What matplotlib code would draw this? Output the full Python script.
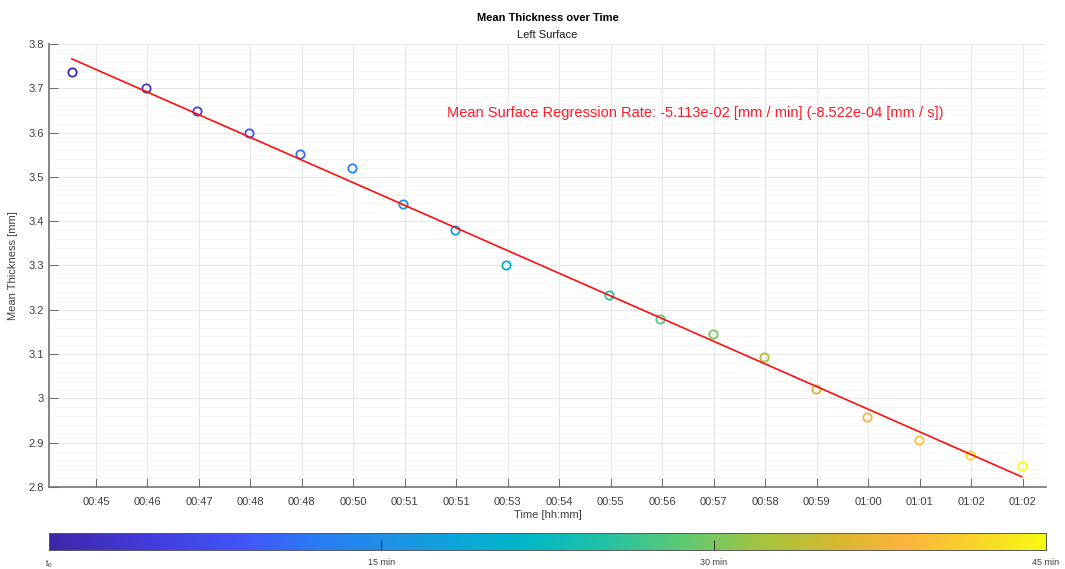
import numpy as np
import matplotlib
matplotlib.use("Agg")
import matplotlib.pyplot as plt
from matplotlib.colors import LinearSegmentedColormap
from matplotlib.ticker import FuncFormatter, MultipleLocator

plt.rcParams['font.family'] = ['Liberation Sans', 'DejaVu Sans']

# Measurement times [min] and mean thickness [mm]
sample_minutes = [44.53, 45.97, 46.96, 47.97, 48.96, 49.97, 50.96, 51.97, 52.97,
                  54.97, 55.96, 56.98, 57.97, 58.98, 59.97, 60.98, 61.97, 62.98]
mean_thickness = [3.736, 3.700, 3.649, 3.598, 3.552, 3.520, 3.439, 3.379, 3.302,
                  3.233, 3.179, 3.146, 3.093, 3.021, 2.958, 2.907, 2.872, 2.847]

# Time axis ticks and labels
tick_minutes = [45, 46, 47, 48, 49, 50, 51, 52, 53, 54, 55, 56, 57, 58, 59, 60, 61, 62, 63]
tick_labels = ['00:45', '00:46', '00:47', '00:48', '00:48', '00:50', '00:51', '00:51',
               '00:53', '00:54', '00:55', '00:56', '00:57', '00:58', '00:59', '01:00',
               '01:01', '01:02', '01:02']

# Fitted regression rate [mm / min]
regression_rate = -5.113e-02

# Colour bar range [min] and labels
cbar_ticks = [0, 15, 30, 45]
cbar_labels = [r'$\mathregular{t_0}$', '15 min', '30 min', '45 min']

# Parula-like colour map
parula = LinearSegmentedColormap.from_list('parula', [
    (0.00, (0.243, 0.150, 0.660)),
    (0.10, (0.262, 0.235, 0.860)),
    (0.20, (0.255, 0.345, 0.975)),
    (0.27, (0.160, 0.490, 0.950)),
    (0.34, (0.120, 0.570, 0.900)),
    (0.41, (0.050, 0.650, 0.850)),
    (0.48, (0.000, 0.720, 0.780)),
    (0.56, (0.150, 0.760, 0.640)),
    (0.64, (0.380, 0.790, 0.440)),
    (0.72, (0.660, 0.770, 0.240)),
    (0.80, (0.860, 0.720, 0.190)),
    (0.86, (0.990, 0.710, 0.240)),
    (0.93, (0.975, 0.830, 0.160)),
    (1.00, (0.977, 0.984, 0.081)),
])

t = np.array(sample_minutes)
y = np.array(mean_thickness)
intercept = y.mean() - regression_rate * t.mean()
elapsed = (t - t[0]) / (t[-1] - t[0]) * cbar_ticks[-1]

fig = plt.figure(figsize=(10.65, 5.69), dpi=100)
ax = fig.add_axes([0.046, 0.1441, 0.936, 0.7786])

axis_grey = (0.45, 0.45, 0.45)
text_grey = (0.25, 0.25, 0.25)

colors = parula(elapsed / cbar_ticks[-1])
for ti, yi, c in zip(t, y, colors):
    ax.plot(ti, yi, 'o', mfc='none', mec=c, ms=6.0, mew=1.3, zorder=3)

fit_t = np.array([t[0], t[-1]])
ax.plot(fit_t, intercept + regression_rate * fit_t, color=(1.0, 0.05, 0.05), lw=1.2, zorder=4)

ax.text(51.82, 3.645,
        f'Mean Surface Regression Rate: {regression_rate:.3e} [mm / min] '
        f'({regression_rate / 60:.3e} [mm / s])',
        color=(1.0, 0.1, 0.15), fontsize=10.5, ha='left', va='center')

ax.set_xlim(44.087, 63.45)
ax.set_ylim(2.8, 3.8)
ax.set_xticks(tick_minutes)
ax.set_xticklabels(tick_labels)
ax.yaxis.set_major_locator(MultipleLocator(0.1))
ax.yaxis.set_minor_locator(MultipleLocator(0.02))
ax.yaxis.set_major_formatter(FuncFormatter(lambda v, p: f'{v:g}'))

ax.grid(True, which='major', color=(0.89, 0.89, 0.89), lw=0.6)
ax.grid(True, which='minor', axis='y', color=(0.95, 0.95, 0.95), lw=0.5)
ax.set_axisbelow(True)

for side in ('top', 'right'):
    ax.spines[side].set_visible(False)
for side in ('left', 'bottom'):
    ax.spines[side].set_color(axis_grey)
    ax.spines[side].set_linewidth(1.2)

ax.tick_params(axis='both', which='major', direction='in', length=6.5, width=0.8,
               color=axis_grey, labelcolor=text_grey, labelsize=8)
ax.tick_params(axis='both', which='minor', length=0)
ax.tick_params(axis='x', pad=7)

ax.set_xlabel('Time [hh:mm]', fontsize=8, color=text_grey, labelpad=2)
ax.set_ylabel('Mean Thickness [mm]', fontsize=8, color=text_grey, labelpad=8)

fig.text(0.5141, 0.968, 'Mean Thickness over Time', fontsize=8, fontweight='bold',
         ha='center', va='center', color='black')
fig.text(0.5141, 0.938, 'Left Surface', fontsize=8, ha='center', va='center', color=(0.1, 0.1, 0.1))

# Horizontal colour bar for elapsed time
cax = fig.add_axes([0.046, 0.0334, 0.936, 0.0299])
gradient = np.linspace(0, 1, 512)[None, :]
cax.imshow(gradient, aspect='auto', cmap=parula,
           extent=[cbar_ticks[0], cbar_ticks[-1], 0, 1], interpolation='bilinear')
cax.set_xlim(cbar_ticks[0], cbar_ticks[-1])
cax.set_yticks([])
cax.set_xticks(cbar_ticks)
cax.set_xticklabels(cbar_labels)
cax.tick_params(axis='x', direction='in', length=7, width=0.7, color=(0.15, 0.15, 0.15),
                labelsize=6.5, labelcolor=text_grey, pad=6)
for s in cax.spines.values():
    s.set_color((0.35, 0.35, 0.35))
    s.set_linewidth(0.7)

fig.savefig('out.png', dpi=100)
